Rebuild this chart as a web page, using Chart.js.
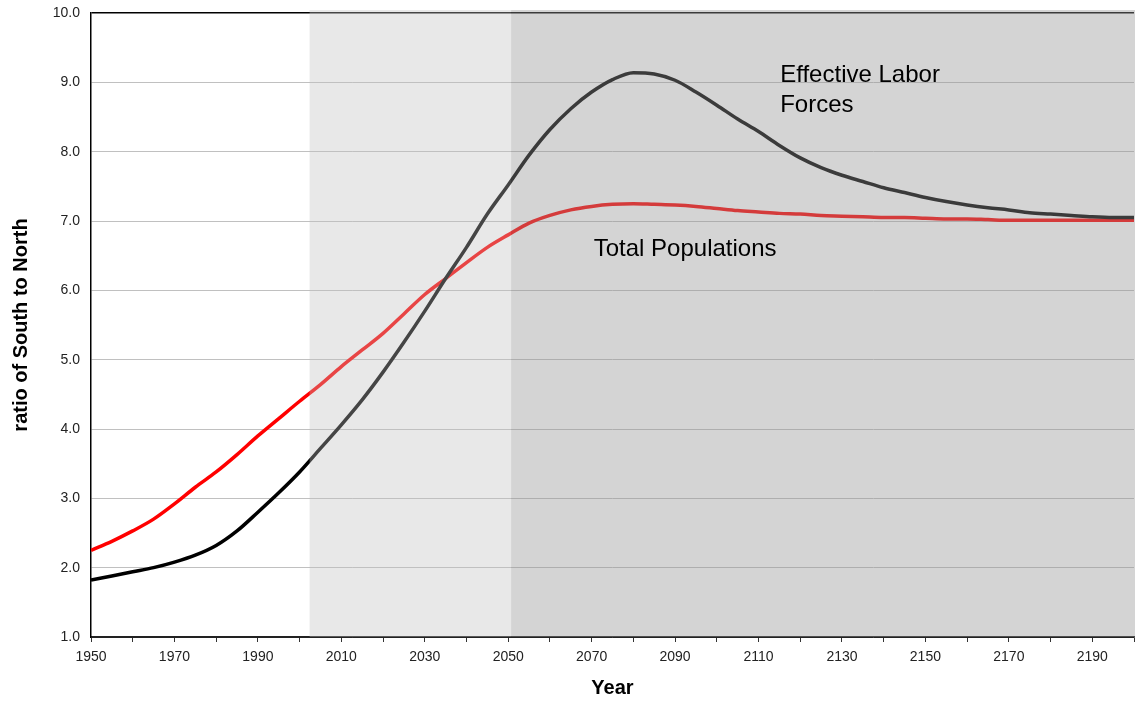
<!DOCTYPE html>
<html>
<head>
<meta charset="utf-8">
<script src="https://cdn.jsdelivr.net/npm/chart.js@4.4.1/dist/chart.umd.min.js"></script>
<style>
  html, body { margin: 0; padding: 0; background: #fff; }
  #wrap { width: 1135px; height: 705px; }
</style>
</head>
<body>
<div id="wrap"><canvas id="chart" width="1135" height="705"></canvas></div>
<script>
// Year axis
const years = [
    1950, 1955, 1960, 1965, 1970, 1975, 1980, 1985, 1990, 1995,
    2000, 2005, 2010, 2015, 2020, 2025, 2030, 2035, 2040, 2045,
    2050, 2055, 2060, 2065, 2070, 2075, 2080, 2085, 2090, 2095,
    2100, 2105, 2110, 2115, 2120, 2125, 2130, 2135, 2140, 2145,
    2150, 2155, 2160, 2165, 2170, 2175, 2180, 2185, 2190, 2195, 2200
];

// ratio of South to North, total populations (red)
const totalPopulations = [
    2.25, 2.38, 2.53, 2.70, 2.92, 3.16, 3.38, 3.63, 3.90, 4.15,
    4.40, 4.64, 4.90, 5.14, 5.38, 5.66, 5.94, 6.17, 6.40, 6.62,
    6.80, 6.97, 7.08, 7.16, 7.21, 7.24, 7.25, 7.24, 7.23, 7.21,
    7.18, 7.15, 7.13, 7.11, 7.10, 7.08, 7.07, 7.06, 7.05, 7.05,
    7.04, 7.03, 7.03, 7.02, 7.01, 7.01, 7.01, 7.01, 7.01, 7.01, 7.01
];

// ratio of South to North, effective labor forces (black)
const effectiveLabor = [
    1.82, 1.88, 1.94, 2.00, 2.08, 2.18, 2.32, 2.53, 2.80, 3.08,
    3.38, 3.72, 4.06, 4.42, 4.82, 5.25, 5.70, 6.17, 6.62, 7.10,
    7.52, 7.95, 8.32, 8.62, 8.86, 9.04, 9.14, 9.12, 9.03, 8.86,
    8.67, 8.47, 8.29, 8.09, 7.91, 7.77, 7.66, 7.57, 7.48, 7.41,
    7.34, 7.28, 7.23, 7.19, 7.16, 7.12, 7.10, 7.08, 7.06, 7.05, 7.05
];

const yTicks = [1, 2, 3, 4, 5, 6, 7, 8, 9, 10];
const xLabelYears = [1950, 1970, 1990, 2010, 2030, 2050, 2070, 2090, 2110, 2130, 2150, 2170, 2190];

// shaded periods (in years)
const shadeLight = [2002.4, 2050.7];
const shadeDark = [2050.7, 2200];

// text labels: [text, year, ratio]
const notes = [
    ['Effective Labor', 2115.2, 9.0],
    ['Forces', 2115.2, 8.57],
    ['Total Populations', 2070.5, 6.49]
];

const FONT = '"Liberation Sans", Arial, sans-serif';

const toPoints = (vals) => vals.map((v, i) => ({ x: years[i], y: v }));

// no automatic label overflow padding, layout.padding decides the plot box
const noPad = (scale) => {
    scale.paddingTop = 0;
    scale.paddingBottom = 0;
    scale.paddingLeft = 0;
    scale.paddingRight = 0;
};

const shadePlugin = {
    id: 'shade',
    afterDatasetsDraw(chart) {
        const { ctx, chartArea, scales } = chart;
        const x = scales.x;
        const top = chartArea.top - 3;
        const h = chartArea.bottom - top;
        ctx.save();
        // light grey period
        let x0 = x.getPixelForValue(shadeLight[0]);
        let x1 = x.getPixelForValue(shadeLight[1]);
        ctx.fillStyle = 'rgba(192, 192, 192, 0.36)';
        ctx.fillRect(x0, top, x1 - x0, h);
        // dark grey period
        x0 = x.getPixelForValue(shadeDark[0]);
        x1 = x.getPixelForValue(shadeDark[1]);
        ctx.fillStyle = 'rgba(148, 148, 148, 0.40)';
        ctx.fillRect(x0, top, x1 - x0 + 1, h);
        ctx.restore();
    },
    afterDraw(chart) {
        const { ctx, scales } = chart;
        ctx.save();
        ctx.fillStyle = '#000';
        ctx.font = '24px ' + FONT;
        ctx.textBaseline = 'alphabetic';
        ctx.textAlign = 'left';
        notes.forEach(([text, yr, val]) => {
            ctx.fillText(text, scales.x.getPixelForValue(yr), scales.y.getPixelForValue(val));
        });
        ctx.restore();
    }
};

const ctx = document.getElementById('chart').getContext('2d');

new Chart(ctx, {
    type: 'line',
    data: {
        datasets: [
            {
                label: 'Effective Labor Forces',
                data: toPoints(effectiveLabor),
                borderColor: '#000000',
                borderWidth: 3.5,
                pointRadius: 0,
                cubicInterpolationMode: 'monotone',
                fill: false
            },
            {
                label: 'Total Populations',
                data: toPoints(totalPopulations),
                borderColor: '#ff0000',
                borderWidth: 3.5,
                pointRadius: 0,
                cubicInterpolationMode: 'monotone',
                fill: false
            }
        ]
    },
    options: {
        responsive: false,
        animation: false,
        layout: {
            padding: { top: 13, right: 1, left: 0, bottom: 0 }
        },
        plugins: {
            legend: { display: false },
            tooltip: { enabled: false }
        },
        scales: {
            x: {
                type: 'linear',
                min: 1950,
                max: 2200,
                afterFit: (scale) => { scale.height = 68; noPad(scale); },
                afterBuildTicks: (scale) => {
                    const t = [];
                    for (let i = 0; i < years.length; i += 2) t.push({ value: years[i] });
                    scale.ticks = t;
                },
                ticks: {
                    autoSkip: false,
                    maxRotation: 0,
                    padding: 7,
                    color: '#222',
                    font: { family: FONT, size: 14 },
                    callback: (v) => xLabelYears.includes(v) ? String(v) : ''
                },
                grid: {
                    display: true,
                    drawOnChartArea: false,
                    drawTicks: true,
                    tickLength: 5,
                    color: '#333'
                },
                border: { display: true, color: '#222', width: 1.5 },
                title: {
                    display: true,
                    text: 'Year',
                    color: '#000',
                    font: { family: FONT, size: 20, weight: 'bold' },
                    padding: { top: 0, bottom: 5 }
                }
            },
            y: {
                min: 1,
                max: 10,
                afterFit: (scale) => { scale.width = 91; noPad(scale); },
                afterBuildTicks: (scale) => {
                    scale.ticks = yTicks.map((v) => ({ value: v }));
                },
                ticks: {
                    padding: 11,
                    color: '#222',
                    font: { family: FONT, size: 14 },
                    callback: (v) => v.toFixed(1)
                },
                grid: {
                    drawTicks: false,
                    color: (c) => c.tick && c.tick.value === 10 ? '#000' : (c.tick && c.tick.value === 1 ? '#222' : '#c0c0c0'),
                    lineWidth: (c) => c.tick && c.tick.value === 10 ? 1.5 : 1
                },
                border: { display: true, color: '#000', width: 1.5 },
                title: {
                    display: true,
                    text: 'ratio of South to North',
                    color: '#000',
                    font: { family: FONT, size: 20, weight: 'bold' },
                    padding: { top: 9, bottom: 0 }
                }
            }
        }
    },
    plugins: [shadePlugin]
});
</script>
</body>
</html>
